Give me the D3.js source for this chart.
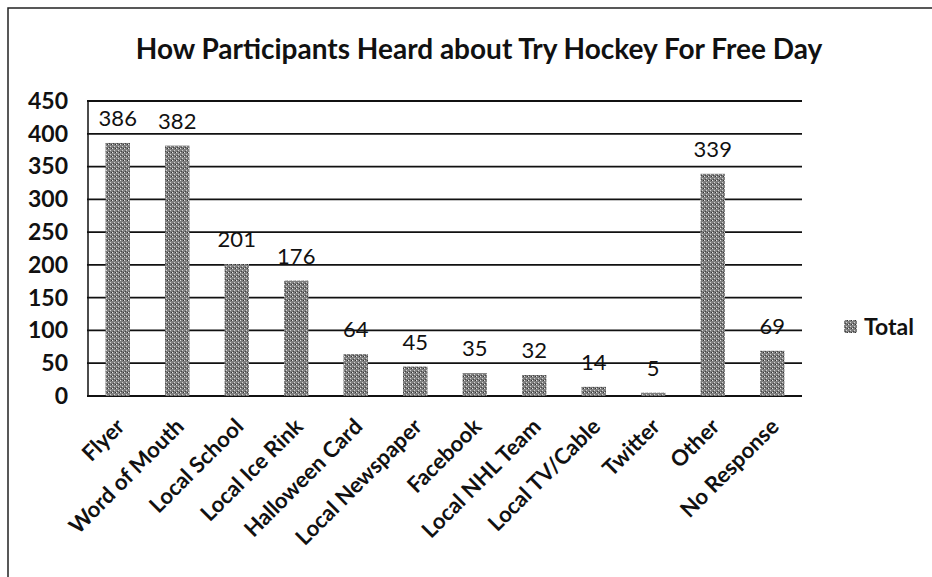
<!DOCTYPE html>
<html><head><meta charset="utf-8">
<script src="https://cdn.jsdelivr.net/npm/d3@7"></script>
<style>body{margin:0;background:#fff}svg{display:block}</style>
</head><body>
<svg id="c" width="932" height="577"></svg>
<script>
const categories = ["Flyer","Word of Mouth","Local School","Local Ice Rink","Halloween Card","Local Newspaper","Facebook","Local NHL Team","Local TV/Cable","Twitter","Other","No Response"];
const totals = [386,382,201,176,64,45,35,32,14,5,339,69];
const yTicks = [0,50,100,150,200,250,300,350,400,450];
const title = "How Participants Heard about Try Hockey For Free Day";
const seriesName = "Total";

const svg = d3.select("#c");
const font = "Lato, 'Open Sans', sans-serif";
const defs = svg.append("defs");
const pat = defs.append("pattern").attr("id","stip").attr("patternUnits","userSpaceOnUse").attr("width",4).attr("height",4);
pat.append("rect").attr("width",4).attr("height",4).attr("fill","#7e7e7e");
pat.append("rect").attr("x",0).attr("y",0).attr("width",1).attr("height",1).attr("fill","#e6e6e6");
pat.append("rect").attr("x",2).attr("y",2).attr("width",1).attr("height",1).attr("fill","#d4d4d4");
pat.append("rect").attr("x",3).attr("y",0).attr("width",1).attr("height",1).attr("fill","#333");
pat.append("rect").attr("x",1).attr("y",3).attr("width",1).attr("height",1).attr("fill","#444");

// frame
svg.append("path").attr("d","M8,577 L8,8 L932,8").attr("fill","none").attr("stroke","#222").attr("stroke-width",1.5);

const x = d3.scaleBand().domain(categories).range([88,802]).paddingInner(0.59).paddingOuter(0.295);
const y = d3.scaleLinear().domain([0,450]).range([396,101]);

// gridlines
svg.append("g").selectAll("line").data(yTicks).join("line")
  .attr("x1",87).attr("x2",802).attr("y1",d=>y(d)).attr("y2",d=>y(d))
  .attr("stroke","#111").attr("stroke-width",1.8);
// y axis line
svg.append("line").attr("x1",88).attr("x2",88).attr("y1",y(450)).attr("y2",y(0)).attr("stroke","#111").attr("stroke-width",1.5);

// y labels
const ya = svg.append("g").attr("transform","translate(74,0)").call(d3.axisLeft(y).tickValues(yTicks).tickSize(0).tickPadding(6));
ya.select(".domain").remove();
ya.selectAll("text").attr("font-family",font).attr("font-size",23).attr("font-weight","bold").attr("fill","#111");

// bars
svg.append("g").selectAll("rect").data(totals).join("rect")
  .attr("x",(d,i)=>x(categories[i])).attr("width",x.bandwidth())
  .attr("y",d=>y(d)).attr("height",d=>y(0)-y(d))
  .attr("fill","url(#stip)");

// data labels
svg.append("g").selectAll("text").data(totals).join("text")
  .attr("x",(d,i)=>x(categories[i])+x.bandwidth()/2).attr("y",d=>y(d)-17)
  .attr("text-anchor","middle").attr("font-family",font).attr("font-size",22).attr("fill","#111")
  .text(d=>d);

// x labels
const xa = svg.append("g").attr("transform","translate(0,"+y(0)+")").call(d3.axisBottom(x).tickSize(0).tickPadding(0));
xa.select(".domain").remove();
xa.selectAll("text").attr("font-family",font).attr("font-size",22).attr("font-weight","bold").attr("fill","#111")
  .attr("text-anchor","end").attr("dy",0)
  .attr("transform","translate(8,32) rotate(-45)");

// title
svg.append("text").attr("x",479).attr("y",59).attr("text-anchor","middle")
  .attr("font-family",font).attr("font-size",28).attr("font-weight","bold").attr("fill","#111").text(title);

// legend
svg.append("rect").attr("x",844).attr("y",320).attr("width",13).attr("height",13).attr("fill","url(#stip)");
svg.append("text").attr("x",864).attr("y",335).attr("font-family",font).attr("font-size",23).attr("font-weight","bold").attr("fill","#111").text(seriesName);
</script>
</body></html>
